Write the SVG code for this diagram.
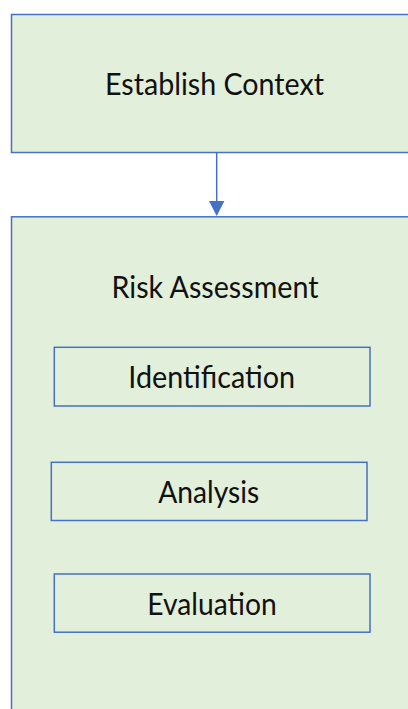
<svg xmlns="http://www.w3.org/2000/svg" width="408" height="709" viewBox="0 0 408 709">
<defs>
<style>
.box{fill:#E2EFDA;stroke:#4472C4;stroke-width:1.5}
.inner{fill:none;stroke:#4472C4;stroke-width:1.5}
.lbl{font-family:Lato,"Open Sans","Liberation Sans",sans-serif;font-size:30px;fill:#111}
.conn{stroke:#4472C4;stroke-width:1.5;fill:none}
</style>
<marker id="arr" markerWidth="10" markerHeight="10" refX="10" refY="5" orient="auto" markerUnits="userSpaceOnUse" viewBox="0 0 10 10">
<path d="M0,0 L10,5 L0,10 Z" fill="#4472C4"/>
</marker>
</defs>
<rect width="408" height="709" fill="#fff"/>
<g id="establish-context">
<rect class="box" x="11.5" y="14.5" width="420" height="138"/>
<text class="lbl" x="105" y="95" textLength="219" lengthAdjust="spacingAndGlyphs">Establish Context</text>
</g>
<g id="risk-assessment">
<rect class="box" x="11.5" y="216.8" width="420" height="520"/>
<text class="lbl" x="111.5" y="298" textLength="207" lengthAdjust="spacingAndGlyphs">Risk Assessment</text>
</g>
<g id="identification">
<rect class="inner" x="54.3" y="347.3" width="315.7" height="58.7"/>
<text class="lbl" x="128.3" y="388.3" textLength="166.7" lengthAdjust="spacingAndGlyphs">Identification</text>
</g>
<g id="analysis">
<rect class="inner" x="51.3" y="462.3" width="315.7" height="58.2"/>
<text class="lbl" x="158.3" y="503.3" textLength="101" lengthAdjust="spacingAndGlyphs">Analysis</text>
</g>
<g id="evaluation">
<rect class="inner" x="54.3" y="574" width="315.7" height="58.2"/>
<text class="lbl" x="147.3" y="615" textLength="129.4" lengthAdjust="spacingAndGlyphs">Evaluation</text>
</g>
<g id="connectors">
<line class="conn" x1="216.7" y1="152.5" x2="216.7" y2="201"/>
<path d="M209,201 L224.4,201 L216.7,216 Z" fill="#4472C4"/>
</g>
</svg>
